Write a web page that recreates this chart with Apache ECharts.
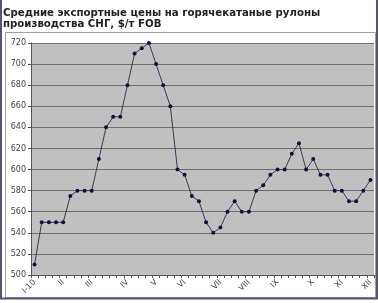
<!DOCTYPE html>
<html>
<head>
<meta charset="utf-8">
<script src="https://cdn.jsdelivr.net/npm/echarts@6/dist/echarts.min.js"></script>
<style>
html,body{margin:0;padding:0;background:#fff;}
#c{width:378px;height:303px;}
</style>
</head>
<body>
<div id="c"></div>
<script>
// Weekly export prices, 2010 ($/t FOB)
const prices = [510,550,550,550,550,575,580,580,580,610,640,650,650,680,710,715,720,700,680,660,
  600,595,575,570,550,540,545,560,570,560,560,580,585,595,600,600,615,625,600,610,
  595,595,580,580,570,570,580,590];
const weeks = prices.map((_, i) => 'w' + (i + 1));
const monthLabels = ['I-10','II','III','IV','V','VI','VII','VIII','IX','X','XI','XII'];
const monthStartIdx = [0,4,8,13,17,21,26,30,34,39,43,47];
const yMin = 500, yMax = 720, yStep = 20;

const chart = echarts.init(document.getElementById('c'), null, {renderer:'canvas'});
chart.setOption({
  animation: false,
  backgroundColor: '#fff',
  title: {
    text: 'Средние экспортные цены на горячекатаные рулоны\nпроизводства СНГ, $/т FOB',
    left: 3, top: 6, padding: [2, 0, 0, 0],
    textStyle: {fontFamily: 'DejaVu Sans', fontWeight: 'bold', fontSize: 10.2, color: '#222', lineHeight: 11}
  },
  graphic: [
    {type:'rect', shape:{x:5.5,y:32.5,width:370,height:265}, style:{fill:'none', stroke:'#a0a0a0', lineWidth:1}, z:-1},
    {type:'line', shape:{x1:1,y1:0,x2:1,y2:299}, style:{stroke:'#5a5370', lineWidth:2}},
    {type:'line', shape:{x1:377,y1:0,x2:377,y2:299}, style:{stroke:'#5a5370', lineWidth:2}},
    {type:'line', shape:{x1:0,y1:298.5,x2:378,y2:298.5}, style:{stroke:'#5a5370', lineWidth:2}}
  ],
  grid: {left: 31, top: 43, right: 4, bottom: 28, show: true, backgroundColor: '#c0c0c0', borderWidth: 0},
  xAxis: {
    type: 'category',
    data: weeks,
    boundaryGap: true,
    axisLine: {show: true, lineStyle: {color: '#555', width: 1}},
    axisTick: {show: true, interval: 0, length: 3, lineStyle: {color: '#555'}},
    axisLabel: {
      interval: 0, rotate: 45, fontSize: 8, color: '#444', fontFamily: 'DejaVu Sans', margin: 6,
      formatter: (v, i) => { const k = monthStartIdx.indexOf(i); return k >= 0 ? monthLabels[k] : ''; }
    },
    splitLine: {show: false}
  },
  yAxis: {
    type: 'value',
    min: yMin, max: yMax, interval: yStep,
    axisLine: {show: true, lineStyle: {color: '#555'}},
    axisTick: {show: true, length: 3, lineStyle: {color: '#555'}},
    axisLabel: {fontSize: 8, color: '#444', fontFamily: 'DejaVu Sans', margin: 5},
    splitLine: {show: true, lineStyle: {color: '#6e6e6e', width: 1}}
  },
  series: [{
    type: 'line',
    data: prices,
    symbol: 'circle',
    symbolSize: 4,
    lineStyle: {color: '#3a3a50', width: 1},
    itemStyle: {color: '#101040'}
  }]
});
</script>
</body>
</html>
